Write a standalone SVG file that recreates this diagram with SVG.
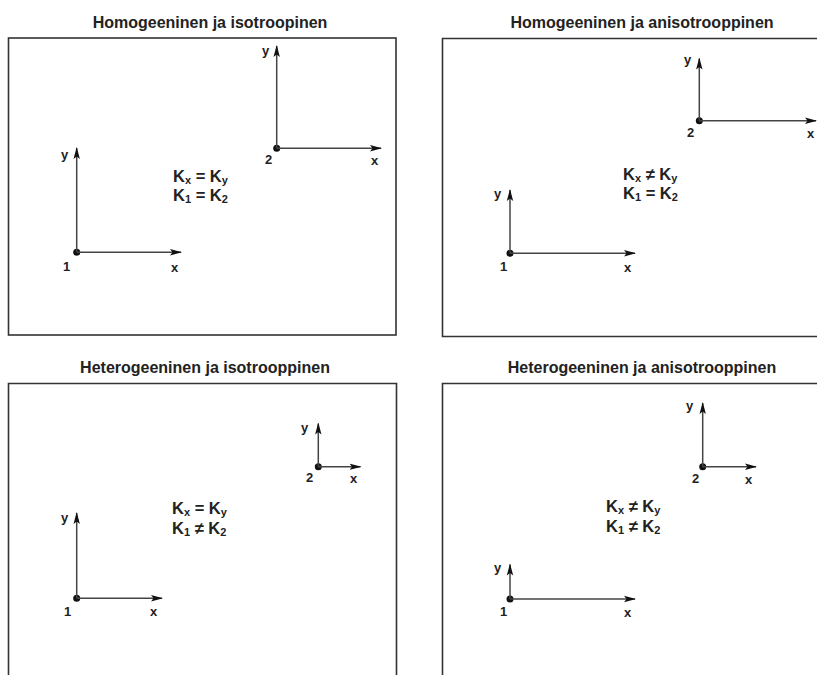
<svg xmlns="http://www.w3.org/2000/svg" width="817" height="675" viewBox="0 0 817 675">
<style>
  .bg{fill:#fff}
  .frame{fill:none;stroke:#333;stroke-width:1.6}
  .title{font-family:"Liberation Sans",Arial,sans-serif;font-weight:bold;font-size:16px;fill:#222;text-anchor:middle}
  .lbl{font-family:"Liberation Sans",Arial,sans-serif;font-weight:bold;font-size:13px;fill:#222}
  .eq{font-family:"Liberation Sans",Arial,sans-serif;font-weight:bold;font-size:16.5px;fill:#222}
  .sub{font-size:11px}
  .axis{stroke:#444;stroke-width:1.5;fill:none;marker-end:url(#ah)}
  .dot{fill:#111}
</style>
<defs>
  <marker id="ah" viewBox="0 0 12 8" refX="11" refY="4" markerWidth="12" markerHeight="8" markerUnits="userSpaceOnUse" orient="auto">
    <path d="M0,0.8 L12,4 L0,7.2 L2.5,4 Z" fill="#111"/>
  </marker>
</defs>
<rect class="bg" x="0" y="0" width="817" height="675"/>

<g id="panel1">
  <text class="title" x="210" y="28">Homogeeninen ja isotroopinen</text>
  <rect class="frame" x="8.5" y="38" width="387.5" height="297"/>
  <g class="eq">
    <text x="173" y="182">K<tspan class="sub" dy="2">x</tspan><tspan dy="-2"> = K</tspan><tspan class="sub" dy="2">y</tspan></text>
    <text x="173" y="201">K<tspan class="sub" dy="2">1</tspan><tspan dy="-2"> = K</tspan><tspan class="sub" dy="2">2</tspan></text>
  </g>
</g>
<g id="p1-point1">
  <circle class="dot" cx="76.7" cy="252.3" r="3.5"/>
  <text class="lbl" x="61" y="159">y</text>
  <text class="lbl" x="63" y="271">1</text>
  <text class="lbl" x="171" y="272">x</text>
</g>
<g id="p1-point2">
  <circle class="dot" cx="276.7" cy="148.3" r="3.5"/>
  <text class="lbl" x="262" y="55">y</text>
  <text class="lbl" x="265" y="164">2</text>
  <text class="lbl" x="371" y="165">x</text>
</g>

<g id="panel2">
  <text class="title" x="642" y="28">Homogeeninen ja anisotrooppinen</text>
  <path class="frame" d="M818,38.5 H442.5 V336.5 H818"/>
  <g class="eq">
    <text x="623" y="180">K<tspan class="sub" dy="2">x</tspan><tspan dy="-2"> ≠ K</tspan><tspan class="sub" dy="2">y</tspan></text>
    <text x="623" y="199">K<tspan class="sub" dy="2">1</tspan><tspan dy="-2"> = K</tspan><tspan class="sub" dy="2">2</tspan></text>
  </g>
</g>
<g id="p2-point1">
  <circle class="dot" cx="510" cy="253.3" r="3.5"/>
  <text class="lbl" x="494" y="198">y</text>
  <text class="lbl" x="500" y="271">1</text>
  <text class="lbl" x="624" y="272">x</text>
</g>
<g id="p2-point2">
  <circle class="dot" cx="699.3" cy="120.7" r="3.5"/>
  <text class="lbl" x="684" y="64">y</text>
  <text class="lbl" x="687" y="137">2</text>
  <text class="lbl" x="807" y="138">x</text>
</g>

<g id="panel3">
  <text class="title" x="205" y="373">Heterogeeninen ja isotrooppinen</text>
  <path class="frame" d="M8.5,676 V383.5 H396.5 V676"/>
  <g class="eq">
    <text x="172" y="514">K<tspan class="sub" dy="2">x</tspan><tspan dy="-2"> = K</tspan><tspan class="sub" dy="2">y</tspan></text>
    <text x="172" y="534">K<tspan class="sub" dy="2">1</tspan><tspan dy="-2"> ≠ K</tspan><tspan class="sub" dy="2">2</tspan></text>
  </g>
</g>
<g id="p3-point1">
  <circle class="dot" cx="76.7" cy="598.3" r="3.5"/>
  <text class="lbl" x="61" y="522">y</text>
  <text class="lbl" x="64" y="616">1</text>
  <text class="lbl" x="150" y="616">x</text>
</g>
<g id="p3-point2">
  <circle class="dot" cx="318.3" cy="466.7" r="3.5"/>
  <text class="lbl" x="301" y="432">y</text>
  <text class="lbl" x="306" y="482">2</text>
  <text class="lbl" x="350" y="483">x</text>
</g>

<g id="panel4">
  <text class="title" x="642" y="373">Heterogeeninen ja anisotrooppinen</text>
  <path class="frame" d="M442.5,676 V383.5 H818"/>
  <g class="eq">
    <text x="606" y="512">K<tspan class="sub" dy="2">x</tspan><tspan dy="-2"> ≠ K</tspan><tspan class="sub" dy="2">y</tspan></text>
    <text x="606" y="532">K<tspan class="sub" dy="2">1</tspan><tspan dy="-2"> ≠ K</tspan><tspan class="sub" dy="2">2</tspan></text>
  </g>
</g>
<g id="p4-point1">
  <circle class="dot" cx="510" cy="599" r="3.5"/>
  <text class="lbl" x="494" y="572">y</text>
  <text class="lbl" x="500" y="616">1</text>
  <text class="lbl" x="624" y="617">x</text>
</g>
<g id="p4-point2">
  <circle class="dot" cx="702.7" cy="466.7" r="3.5"/>
  <text class="lbl" x="686" y="410">y</text>
  <text class="lbl" x="692" y="483">2</text>
  <text class="lbl" x="745" y="484">x</text>
</g>

<g id="connectors">
  <line class="axis" x1="76.7" y1="252.3" x2="76.7" y2="148"/>
  <line class="axis" x1="76.7" y1="252.3" x2="181" y2="252.3"/>
  <line class="axis" x1="276.7" y1="148.3" x2="276.7" y2="46"/>
  <line class="axis" x1="276.7" y1="148.3" x2="381" y2="148.3"/>

  <line class="axis" x1="510" y1="253.3" x2="510" y2="190"/>
  <line class="axis" x1="510" y1="253.3" x2="635" y2="253.3"/>
  <line class="axis" x1="699.3" y1="120.7" x2="699.3" y2="58.5"/>
  <line class="axis" x1="699.3" y1="120.7" x2="816" y2="120.7"/>

  <line class="axis" x1="76.7" y1="598.3" x2="76.7" y2="513"/>
  <line class="axis" x1="76.7" y1="598.3" x2="162" y2="598.3"/>
  <line class="axis" x1="318.3" y1="466.7" x2="318.3" y2="423.5"/>
  <line class="axis" x1="318.3" y1="466.7" x2="360.5" y2="466.7"/>

  <line class="axis" x1="510" y1="599" x2="510" y2="564.5"/>
  <line class="axis" x1="510" y1="599" x2="635" y2="599"/>
  <line class="axis" x1="702.7" y1="466.7" x2="702.7" y2="403"/>
  <line class="axis" x1="702.7" y1="466.7" x2="756" y2="466.7"/>
</g>
</svg>
